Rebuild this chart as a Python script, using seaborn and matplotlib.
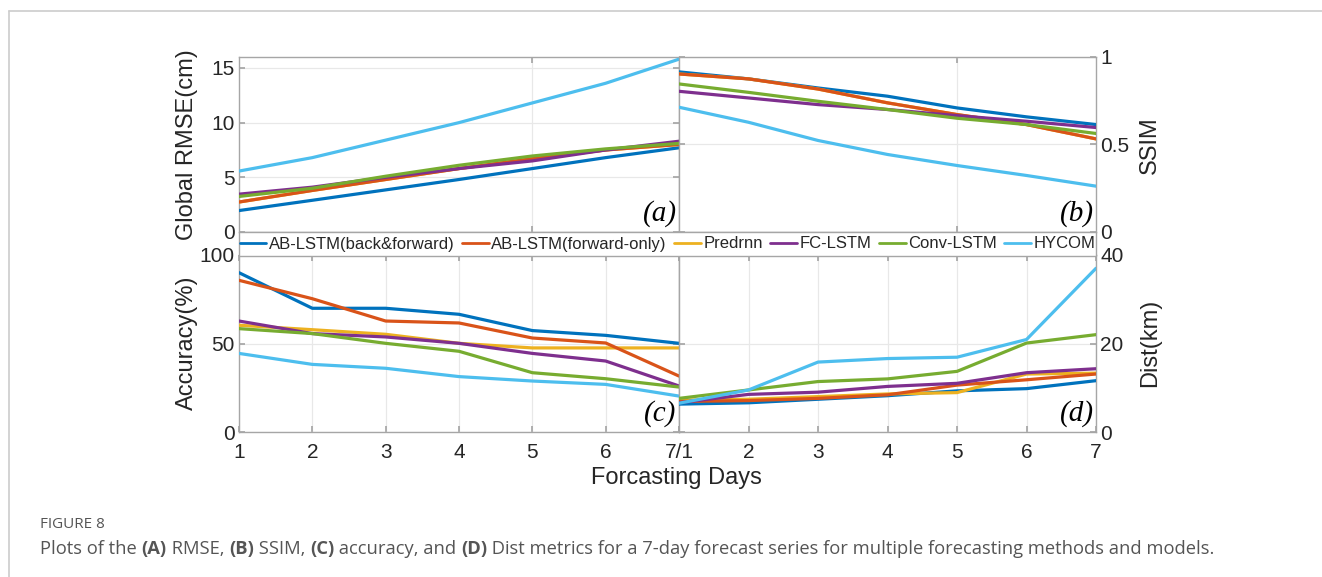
import numpy as np
import pandas as pd
import matplotlib
matplotlib.use("Agg")
import matplotlib.pyplot as plt
from matplotlib.lines import Line2D
from matplotlib.patches import Rectangle
import seaborn as sns

days = [1, 2, 3, 4, 5, 6, 7]
models = ["AB-LSTM(back&forward)", "AB-LSTM(forward-only)", "Predrnn",
          "FC-LSTM", "Conv-LSTM", "HYCOM"]
colors = ["#0072BD", "#D95319", "#EDB120", "#7E2F8E", "#77AC30", "#4DBEEE"]

# (a) Global RMSE (cm)
rmse_ab_bf = [1.96, 2.9, 3.85, 4.8, 5.8, 6.8, 7.7]
rmse_ab_fo = [2.74, 3.8, 4.8, 5.8, 6.7, 7.5, 8.0]
rmse_predrnn = [2.74, 3.8, 4.8, 5.8, 6.7, 7.5, 8.0]
rmse_fc = [3.46, 4.1, 5.0, 5.8, 6.5, 7.5, 8.3]
rmse_conv = [3.25, 4.0, 5.1, 6.1, 6.95, 7.6, 8.1]
rmse_hycom = [5.57, 6.8, 8.4, 10.0, 11.8, 13.6, 15.8]

# (b) SSIM
ssim_ab_bf = [0.915, 0.875, 0.823, 0.776, 0.709, 0.658, 0.614]
ssim_ab_fo = [0.903, 0.875, 0.817, 0.738, 0.671, 0.614, 0.532]
ssim_predrnn = [0.903, 0.875, 0.817, 0.738, 0.671, 0.614, 0.532]
ssim_fc = [0.804, 0.766, 0.728, 0.700, 0.665, 0.633, 0.597]
ssim_conv = [0.846, 0.798, 0.747, 0.700, 0.650, 0.614, 0.563]
ssim_hycom = [0.713, 0.627, 0.523, 0.443, 0.380, 0.323, 0.262]

# (c) Accuracy (%)
acc_ab_bf = [90.0, 69.9, 69.9, 66.5, 57.3, 54.6, 50.1]
acc_ab_fo = [85.7, 75.3, 62.7, 61.6, 53.1, 50.3, 31.6]
acc_predrnn = [60.3, 57.8, 55.2, 50.1, 47.5, 47.5, 47.5]
acc_fc = [62.7, 55.6, 53.7, 50.1, 44.4, 40.1, 26.0]
acc_conv = [58.4, 55.6, 50.1, 45.6, 33.5, 30.1, 25.4]
acc_hycom = [44.4, 38.2, 36.0, 31.3, 28.8, 26.9, 20.3]

# (d) Dist (km)
dist_ab_bf = [6.3, 6.6, 7.4, 8.2, 9.3, 9.8, 11.6]
dist_ab_fo = [6.9, 7.1, 7.6, 8.4, 10.6, 11.8, 13.1]
dist_predrnn = [7.2, 7.4, 8.0, 8.6, 8.9, 13.1, 13.3]
dist_fc = [6.6, 8.5, 9.0, 10.3, 11.0, 13.4, 14.3]
dist_conv = [7.6, 9.5, 11.4, 12.0, 13.7, 20.1, 22.0]
dist_hycom = [6.5, 9.5, 15.8, 16.6, 16.9, 20.9, 37.0]

def long_df(series_list):
    rows = []
    for m, vals in zip(models, series_list):
        for d, v in zip(days, vals):
            rows.append({"day": d, "value": v, "model": m})
    return pd.DataFrame(rows)

df_a = long_df([rmse_ab_bf, rmse_ab_fo, rmse_predrnn, rmse_fc, rmse_conv, rmse_hycom])
df_b = long_df([ssim_ab_bf, ssim_ab_fo, ssim_predrnn, ssim_fc, ssim_conv, ssim_hycom])
df_c = long_df([acc_ab_bf, acc_ab_fo, acc_predrnn, acc_fc, acc_conv, acc_hycom])
df_d = long_df([dist_ab_bf, dist_ab_fo, dist_predrnn, dist_fc, dist_conv, dist_hycom])

sns.set_theme(style="white")
plt.rcParams['font.family'] = ['Liberation Sans', 'DejaVu Sans']

W, H = 1322, 577
fig = plt.figure(figsize=(W / 100, H / 100), dpi=100)

def rect(x0, y0, x1, y1):
    return [x0 / W, 1 - y1 / H, (x1 - x0) / W, (y1 - y0) / H]

ax_a = fig.add_axes(rect(239, 57, 679, 232))
ax_b = fig.add_axes(rect(679, 57, 1096, 232))
ax_c = fig.add_axes(rect(239, 255, 679, 432))
ax_d = fig.add_axes(rect(679, 255, 1096, 432))

palette = dict(zip(models, colors))
# draw order: Predrnn first so AB-LSTM(forward-only) sits on top where they coincide
order = ["AB-LSTM(back&forward)", "Predrnn", "AB-LSTM(forward-only)",
         "FC-LSTM", "Conv-LSTM", "HYCOM"]

edge = "#a6a6a6"
tick_col = "#262626"
for ax, df in [(ax_a, df_a), (ax_b, df_b), (ax_c, df_c), (ax_d, df_d)]:
    for m in order:
        sub = df[df["model"] == m]
        sns.lineplot(data=sub, x="day", y="value", color=palette[m], lw=2.3,
                     ax=ax, legend=False, zorder=3)
    ax.set_xlim(1, 7)
    ax.set_xlabel("")
    ax.set_ylabel("")
    ax.grid(True, color="#e8e8e8", lw=0.9, zorder=0)
    for s in ax.spines.values():
        s.set_color(edge)
        s.set_linewidth(1.0)
    ax.tick_params(direction="in", length=4, color=edge, labelsize=15,
                   labelcolor=tick_col, top=True, right=True, left=True,
                   bottom=True, pad=3)

# top panels
for ax in (ax_a, ax_b):
    ax.set_xticks([5])
    ax.set_xticklabels([])
ax_a.set_ylim(0, 16)
ax_a.set_yticks([0, 5, 10, 15])
ax_a.set_yticklabels(["0", "5", "10", "15"])
ax_b.set_ylim(0, 1)
ax_b.set_yticks([0, 0.5, 1])
ax_b.yaxis.tick_right()
ax_b.tick_params(axis="y", left=True, right=True, labelleft=False, labelright=True)
ax_b.set_yticklabels(["0", "0.5", "1"])

# bottom panels
ax_c.set_xticks(days)
ax_c.set_xticklabels(["1", "2", "3", "4", "5", "6", "7/1"])
ax_d.set_xticks(days)
ax_d.set_xticklabels(["", "2", "3", "4", "5", "6", "7"])
for ax in (ax_c, ax_d):
    ax.tick_params(axis="x", pad=8)
ax_c.set_ylim(0, 100)
ax_c.set_yticks([0, 50, 100])
ax_d.set_ylim(0, 40)
ax_d.set_yticks([0, 20, 40])
ax_d.yaxis.tick_right()
ax_d.tick_params(axis="y", left=True, right=True, labelleft=False, labelright=True)

# axis labels
lab_kw = dict(fontsize=17, color=tick_col)
fig.text(187 / W, 1 - 145 / H, "Global RMSE(cm)", rotation=90, ha="center", va="center", **lab_kw)
fig.text(187 / W, 1 - 343 / H, "Accuracy(%)", rotation=90, ha="center", va="center", **lab_kw)
fig.text(1150 / W, 1 - 145 / H, "SSIM", rotation=90, ha="center", va="center", **lab_kw)
fig.text(1150 / W, 1 - 343 / H, "Dist(km)", rotation=90, ha="center", va="center", **lab_kw)
fig.text(676 / W, 1 - 478 / H, "Forcasting Days", ha="center", va="center", **lab_kw)

# panel letters
for ax, t in [(ax_a, "(a)"), (ax_b, "(b)"), (ax_c, "(c)"), (ax_d, "(d)")]:
    ax.text(0.995, 0.03, t, transform=ax.transAxes, ha="right", va="bottom",
            fontsize=21, style="italic", family="Liberation Serif", color="black",
            zorder=5)

# legend box between panels
r = rect(239, 232, 1096, 256)
fig.add_artist(Rectangle((r[0], r[1]), r[2], r[3], transform=fig.transFigure,
                         facecolor="white", edgecolor=edge, lw=1.0, zorder=4))
handles = [Line2D([0], [0], color=c, lw=2) for c in colors]
leg = fig.legend(handles, models, loc="center",
                 bbox_to_anchor=(r[0] + r[2] / 2, r[1] + r[3] / 2),
                 ncol=6, frameon=False, fontsize=12.0, handlelength=1.6,
                 handletextpad=0.15, columnspacing=0.45, borderpad=0.0,
                 borderaxespad=0.0)
leg.set_zorder(5)
for txt in leg.get_texts():
    txt.set_color(tick_col)

# page frame lines
fig.add_artist(Line2D([9 / W, 1.0], [1 - 11 / H, 1 - 11 / H], color="#cccccc", lw=1.2))
fig.add_artist(Line2D([9 / W, 9 / W], [0.0, 1 - 11 / H], color="#cccccc", lw=1.2))

# caption
cap_col = "#555555"
fig.text(40 / W, 1 - 524 / H, "FIGURE 8", fontsize=11, color=cap_col,
         family="Open Sans", va="center")
parts = [("Plots of the ", "normal"), ("(A)", "bold"), (" RMSE, ", "normal"),
         ("(B)", "bold"), (" SSIM, ", "normal"), ("(C)", "bold"),
         (" accuracy, and ", "normal"), ("(D)", "bold"),
         (" Dist metrics for a 7-day forecast series for multiple forecasting methods and models.", "normal")]
fig.canvas.draw()
renderer = fig.canvas.get_renderer()
x = 40 / W
for s, w in parts:
    t = fig.text(x, 1 - 549 / H, s, fontsize=13.2, color=cap_col, family="Open Sans",
                 weight=w, va="center")
    bb = t.get_window_extent(renderer=renderer)
    x += bb.width / W

fig.savefig("out.png", dpi=100)
